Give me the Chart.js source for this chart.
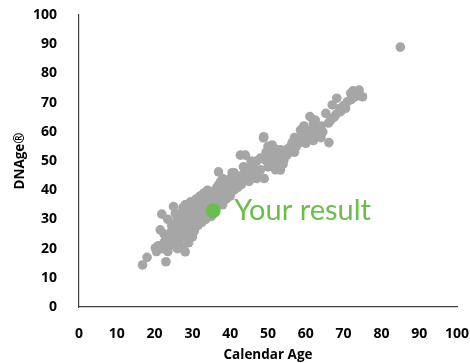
<!DOCTYPE html>
<html>
<head>
<meta charset="utf-8">
<script src="https://cdn.jsdelivr.net/npm/chart.js@4"></script>
<style>
  html, body { margin: 0; padding: 0; background: #fff; }
  #wrap { width: 470px; height: 363px; }
</style>
</head>
<body>
<div id="wrap"><canvas id="scatter"></canvas></div>
<script>
// Calendar age / DNAge of the reference population
var calendarAge = [
  16.8, 18, 23, 28.1, 20.2, 21.5, 21.9, 25, 28.1,
  20.5, 21, 22, 22.5, 23, 23.5, 24, 24, 24.5, 25, 25, 25.5, 26, 26, 26, 26.5, 27, 27, 27, 27.5,
  28, 28, 28, 28.5, 29, 29, 29, 29.5, 30, 30, 30, 30, 30.5, 31, 31, 31, 31.5, 32, 32, 32, 32.5,
  33, 33, 33, 33.5, 34, 34, 34, 35, 35, 35, 36, 36, 36, 37, 37, 37, 38, 38, 38, 38, 39, 39, 39,
  40, 40, 40, 41, 41, 41, 42, 42, 43, 43, 44, 44, 36.9, 42.7, 44, 44, 45, 45, 46, 46, 47, 47.1, 47,
  48, 48, 48.8, 48.9, 49, 49.3, 50, 50, 50, 51, 51.1, 51, 52, 52, 52, 52, 53, 53, 53, 53.3, 53.3,
  54, 54, 54.2, 55, 55, 56, 56.4, 57, 57, 58, 58.6, 59, 59, 60, 60, 60, 60.4, 61, 61, 61.1, 61.3,
  62, 62, 62, 63, 63.5, 64, 64, 65.3, 66, 66.1, 66.6, 67, 68, 68.2, 69, 69.2, 70, 71, 71.9, 72, 73,
  74.1, 74, 75, 85,
  22.5, 23.5, 24.5, 25.5, 26.5, 27.5, 28.5, 29.5, 30.5, 31.5, 32.5, 33.5, 34.5, 35.5, 36.5, 37.5,
  39.5, 40.5, 43.5, 45.5, 49.5, 51.5, 54.5, 57.5, 59.5, 62.5, 64.5, 67.5, 70.5, 72.5
];
var dnAge = [
  14.4, 17, 15.5, 18.9, 20.2, 26.4, 31.8, 34.4, 35,
  19, 21, 20, 22, 24, 19, 21, 23, 26, 22, 28, 24, 20, 26, 30, 22, 25, 28, 32, 20,
  24, 27, 30, 33, 22, 26, 29, 31, 24, 28, 32, 35, 26, 30, 33, 37, 28, 31, 34, 38, 29,
  32, 35, 39, 30, 33, 36, 40, 31, 35, 38, 34, 37, 40, 36, 39, 42, 35, 38, 41, 44, 37, 40, 43,
  38, 41, 44, 40, 43, 46, 41, 44, 42, 45, 44, 47, 46.3, 52, 52, 47.6, 43, 46, 45, 48, 44, 45.8, 50,
  47, 51, 57.9, 58.3, 44, 50.3, 48, 52, 55, 50, 55.5, 53, 47, 49, 51, 54, 48, 50, 52, 46.9, 53.8,
  49, 51, 50.3, 52, 54, 55, 56.3, 53, 58, 56, 60.6, 57, 59, 56, 58, 61, 57.2, 58, 60, 65.2, 59.5,
  57, 61, 63, 59, 60, 58, 62, 66.3, 63, 56.3, 64, 69.2, 66, 71.5, 68, 66.9, 69, 70.3, 73.2, 71, 72,
  74.3, 72.5, 72, 89,
  25, 30, 28, 32, 24, 34, 26, 36, 29, 35, 37, 38, 34, 37, 41, 43,
  42, 46, 48, 50, 53, 51, 52, 55, 62, 64, 60, 65, 68, 74
];

// The single highlighted result
var yourAge = [35.5];
var yourDnAge = [33];
var yourLabel = 'Your result';

var gray = '#a6a6a6';
var green = '#6abf4b';

var population = calendarAge.map(function (x, i) { return { x: x, y: dnAge[i] }; });
var result = yourAge.map(function (x, i) { return { x: x, y: yourDnAge[i] }; });

// Draws the "Your result" text next to the green point
var resultLabel = {
  id: 'resultLabel',
  afterDatasetsDraw: function (chart) {
    var ctx = chart.ctx;
    var px = chart.scales.x.getPixelForValue(yourAge[0]);
    var py = chart.scales.y.getPixelForValue(yourDnAge[0]);
    ctx.save();
    ctx.fillStyle = green;
    ctx.font = '29px Lato';
    ctx.textAlign = 'left';
    ctx.textBaseline = 'middle';
    ctx.fillText(yourLabel, px + 21, py + 0);
    ctx.restore();
  }
};

var tickFont = { family: 'Open Sans', size: 14, weight: 'bold' };
var titleFont = { family: 'Open Sans', size: 13.5, weight: 'bold' };

new Chart(document.getElementById('scatter'), {
  type: 'scatter',
  data: {
    datasets: [
      {
        label: yourLabel,
        data: result,
        backgroundColor: green,
        borderWidth: 0,
        pointRadius: 7.5,
        order: 0
      },
      {
        label: 'Population',
        data: population,
        backgroundColor: gray,
        borderWidth: 0,
        pointRadius: 4.8,
        order: 1
      }
    ]
  },
  options: {
    responsive: true,
    maintainAspectRatio: false,
    animation: false,
    layout: { padding: { left: 0, right: 13, top: 15, bottom: 0 } },
    scales: {
      x: {
        type: 'linear',
        min: 0,
        max: 100,
        grid: { display: false },
        border: { display: true, color: '#404040', width: 1.2 },
        ticks: { stepSize: 10, color: '#000', font: tickFont, padding: 11, maxRotation: 0 },
        title: {
          display: true,
          text: 'Calendar Age',
          color: '#000',
          font: titleFont,
          padding: { top: 3, bottom: 0 }
        },
        afterFit: function (scale) {
          scale.height = 56;
          scale.paddingLeft = 0;
          scale.paddingRight = 0;
        }
      },
      y: {
        type: 'linear',
        min: 0,
        max: 100,
        grid: { display: false },
        border: { display: true, color: '#404040', width: 1.2 },
        ticks: { stepSize: 10, color: '#000', font: tickFont, padding: 14 },
        title: {
          display: true,
          text: 'DNAge®',
          color: '#000',
          font: titleFont,
          padding: { top: 12, bottom: 4 }
        },
        afterFit: function (scale) {
          scale.width = 79;
          scale.paddingTop = 0;
          scale.paddingBottom = 0;
        }
      }
    },
    plugins: {
      legend: { display: false },
      tooltip: { enabled: false }
    }
  },
  plugins: [resultLabel]
});
</script>
</body>
</html>
